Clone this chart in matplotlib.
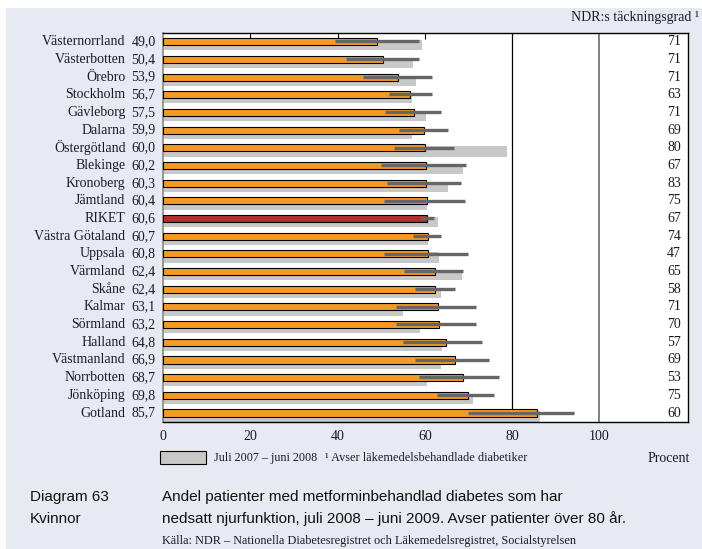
import matplotlib
matplotlib.use("Agg")
import matplotlib.pyplot as plt
from matplotlib.patches import Rectangle
from matplotlib.transforms import blended_transform_factory

regions = ["Västernorrland", "Västerbotten", "Örebro", "Stockholm", "Gävleborg",
           "Dalarna", "Östergötland", "Blekinge", "Kronoberg", "Jämtland", "RIKET",
           "Västra Götaland", "Uppsala", "Värmland", "Skåne", "Kalmar", "Sörmland",
           "Halland", "Västmanland", "Norrbotten", "Jönköping", "Gotland"]
values_2009 = [49.0, 50.4, 53.9, 56.7, 57.5, 59.9, 60.0, 60.2, 60.3, 60.4, 60.6,
               60.7, 60.8, 62.4, 62.4, 63.1, 63.2, 64.8, 66.9, 68.7, 69.8, 85.7]
values_2008 = [59.4, 57.3, 57.9, 57.1, 60.3, 57.1, 78.9, 68.7, 65.3, 60.5, 62.9,
               60.8, 63.3, 68.4, 63.6, 55.1, 59.0, 63.9, 63.6, 60.6, 71.0, 86.5]
ci_low = [39.4, 42.0, 45.8, 51.7, 50.8, 54.1, 52.9, 49.9, 51.4, 50.6, 59.0,
          57.4, 50.6, 55.3, 57.7, 53.3, 53.5, 55.1, 57.8, 58.7, 62.8, 70.0]
ci_high = [58.6, 58.7, 61.6, 61.6, 63.7, 65.2, 66.6, 69.5, 68.3, 69.1, 62.2,
           63.8, 69.9, 68.7, 66.8, 71.8, 71.8, 73.1, 74.7, 77.0, 75.8, 94.1]
coverage = [71, 71, 71, 63, 71, 69, 80, 67, 83, 75, 67, 74, 47, 65, 58, 71, 70,
            57, 69, 53, 75, 60]
xticks = [0, 20, 40, 60, 80, 100]

W, H = 702, 549
fig = plt.figure(figsize=(W / 100, H / 100), dpi=100, facecolor="white")

def fx(px):
    return px / W

def fy(py):
    return 1 - py / H

# background panel
bg = Rectangle((fx(6), 0), 1 - fx(6), fy(8), transform=fig.transFigure,
               facecolor="#e7eaf1", edgecolor="none", zorder=-10)
fig.add_artist(bg)

ax = fig.add_axes([fx(163), fy(421.5), fx(688) - fx(163), fy(32.7) - fy(421.5)])
ax.set_zorder(1)
ax.set_facecolor("white")
ax.set_xlim(0, 120.3)
ax.set_ylim(21.48, -0.515)

serif = "Liberation Serif"
sans = "Liberation Sans"
txtcol = "#1a1a2e"

ys = list(range(len(regions)))
ax.barh([y + 0.2 for y in ys], values_2008, height=0.58, color="#c8c8c8",
        edgecolor="none", zorder=2)
colors = ["#b3302a" if r == "RIKET" else "#f49a25" for r in regions]
ax.barh(ys, values_2009, height=0.4, color=colors, edgecolor="black",
        linewidth=0.8, zorder=3)
ax.hlines([y - 0.02 for y in ys], ci_low, ci_high, color="#666666",
          linewidth=2.4, zorder=4)

ax.axvline(80, color="black", linewidth=0.9, zorder=1)
ax.axvline(100, color="#777777", linewidth=1.3, zorder=1)

for s in ["top", "right", "bottom"]:
    ax.spines[s].set_color("black")
    ax.spines[s].set_linewidth(1.0)
ax.spines["left"].set_color("#888888")
ax.spines["left"].set_linewidth(1.2)

ax.set_yticks([])
ax.set_xticks([20, 40, 60])
ax.tick_params(axis="x", direction="in", length=4, width=0.8, top=True,
               bottom=True, labelbottom=False, color="black")

# x tick labels
xtrans = blended_transform_factory(ax.transData, fig.transFigure)
for t in xticks:
    ax.text(t, fy(436), str(t), transform=xtrans, ha="center", va="center",
            fontsize=10, family=serif, color=txtcol, clip_on=False)

trans = blended_transform_factory(fig.transFigure, ax.transData)
for y, name, v, c in zip(ys, regions, values_2009, coverage):
    ax.text(fx(125.5), y, name, transform=trans, ha="right", va="center",
            fontsize=10, family=serif, color=txtcol, clip_on=False)
    ax.text(fx(155.5), y, f"{v:.1f}".replace(".", ","), transform=trans,
            ha="right", va="center", fontsize=10, family=serif, color=txtcol,
            clip_on=False)
    ax.text(fx(681), y, str(c), transform=trans, ha="right", va="center",
            fontsize=10, family=serif, color=txtcol, clip_on=False)

fig.text(fx(699), fy(18), "NDR:s täckningsgrad ¹", ha="right", va="center",
         fontsize=10, family=serif, color=txtcol)

# legend
fig.add_artist(Rectangle((fx(160), fy(463.5)), fx(206) - fx(160), fy(451) - fy(463.5),
                         transform=fig.transFigure, facecolor="#c8c8c8",
                         edgecolor="black", linewidth=0.8))
fig.text(fx(214), fy(458), "Juli 2007 – juni 2008", ha="left", va="center",
         fontsize=8.7, family=serif, color=txtcol)
fig.text(fx(325), fy(458), "¹ Avser läkemedelsbehandlade diabetiker", ha="left",
         va="center", fontsize=8.8, family=serif, color=txtcol)
fig.text(fx(690), fy(458), "Procent", ha="right", va="center", fontsize=10,
         family=serif, color=txtcol)

# caption
fig.text(fx(30), fy(497), "Diagram 63", ha="left", va="center", fontsize=11,
         family=sans, color="#111111")
fig.text(fx(30), fy(519), "Kvinnor", ha="left", va="center", fontsize=11,
         family=sans, color="#111111")
fig.text(fx(162), fy(497), "Andel patienter med metforminbehandlad diabetes som har",
         ha="left", va="center", fontsize=11, family=sans, color="#111111")
fig.text(fx(162), fy(519),
         "nedsatt njurfunktion, juli 2008 – juni 2009. Avser patienter över 80 år.",
         ha="left", va="center", fontsize=11, family=sans, color="#111111")
fig.text(fx(162), fy(541),
         "Källa: NDR – Nationella Diabetesregistret och Läkemedelsregistret, Socialstyrelsen",
         ha="left", va="center", fontsize=8.8, family=serif, color=txtcol)

fig.savefig("out.png", dpi=100, facecolor="white")
